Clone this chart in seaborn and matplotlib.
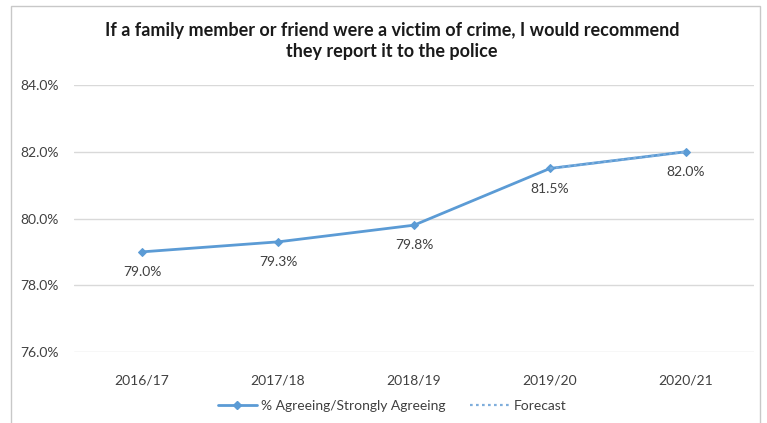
import numpy as np
import pandas as pd
import matplotlib
matplotlib.use("Agg")
import matplotlib.pyplot as plt
import seaborn as sns
from matplotlib.patches import Rectangle
from matplotlib.lines import Line2D

years = ["2016/17", "2017/18", "2018/19", "2019/20", "2020/21"]
agreeing = [79.0, 79.3, 79.8, 81.5, 82.0]
forecast = [np.nan, np.nan, np.nan, 81.5, 82.0]
y_ticks = [76.0, 78.0, 80.0, 82.0, 84.0]

title = ("If a family member or friend were a victim of crime, I would recommend\n"
         "they report it to the police")

sns.set_style("white")
plt.rcParams["font.family"] = ["Lato", "DejaVu Sans"]

line_col = "#5B9BD5"
text_col = "#404040"

df = pd.DataFrame({"year": years, "x": range(len(years)),
                   "agree": agreeing, "forecast": forecast})

fig = plt.figure(figsize=(7.67, 4.23), dpi=100)
ax = fig.add_axes([74 / 767, (423 - 352) / 423, 680 / 767, (352 - 85) / 423])

# outer chart frame
fig.patches.append(Rectangle((11 / 767, -0.05), 749 / 767, 1.05 - 6 / 423,
                             transform=fig.transFigure, fill=False,
                             edgecolor="#C8C8C8", linewidth=1.0))

sns.lineplot(data=df, x="x", y="agree", ax=ax, color=line_col, linewidth=2.0,
             marker="D", markersize=4.5, markeredgecolor=line_col, zorder=3)
sns.lineplot(data=df, x="x", y="forecast", ax=ax, color="#7FAEDC",
             linewidth=1.6, linestyle=(0, (1.2, 1.5)), zorder=4)

for xi, v in zip(df["x"], agreeing):
    ax.annotate(f"{v:.1f}%", (xi, v), xytext=(0, -14.5), textcoords="offset points",
                ha="center", va="center", fontsize=10, color=text_col)

ax.set_xlim(-0.5, len(years) - 0.5)
ax.set_ylim(y_ticks[0], y_ticks[-1])
ax.set_yticks(y_ticks)
ax.set_yticklabels([f"{t:.1f}%" for t in y_ticks])
ax.set_xticks(range(len(years)))
ax.set_xticklabels(years)
ax.tick_params(axis="both", length=0, labelsize=10, labelcolor=text_col)
ax.tick_params(axis="y", pad=11)
ax.tick_params(axis="x", pad=16)
ax.set_xlabel("")
ax.set_ylabel("")
ax.grid(axis="y", color="#D9D9D9", linewidth=1.0)
for s in ax.spines.values():
    s.set_visible(False)

fig.text(392 / 767, 1 - 41 / 423, title, ha="center", va="center",
         fontsize=13, fontweight="bold", color="#1a1a1a", linespacing=1.35)

handles = [
    Line2D([], [], color=line_col, linewidth=2.0, marker="D", markersize=4.5),
    Line2D([], [], color="#7FAEDC", linewidth=1.6, linestyle=(0, (1.2, 1.5))),
]
fig.legend(handles, ["% Agreeing/Strongly Agreeing", "Forecast"],
           loc="center", bbox_to_anchor=(392 / 767, 1 - 406 / 423), ncol=2,
           frameon=False, fontsize=10, labelcolor=text_col,
           handlelength=2.8, columnspacing=1.8, handletextpad=0.3)

fig.savefig("out.png", dpi=100, facecolor="white")
